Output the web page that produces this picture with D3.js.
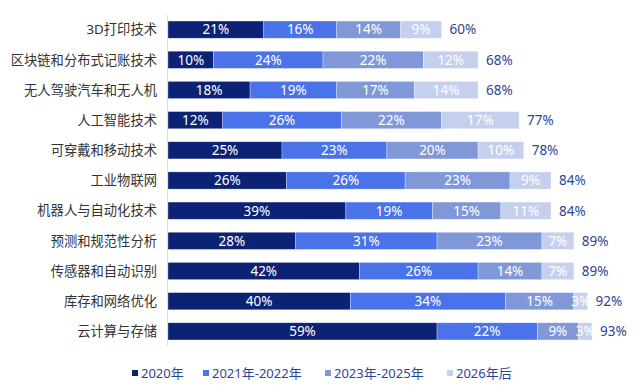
<!DOCTYPE html>
<html><head><meta charset="utf-8">
<script src="https://cdn.jsdelivr.net/npm/d3@7"></script>
<style>body{margin:0;background:#fff}svg{display:block}</style>
</head><body><svg id="c" width="640" height="392"></svg>
<script>
const categories = ["3D打印技术","区块链和分布式记账技术","无人驾驶汽车和无人机","人工智能技术","可穿戴和移动技术","工业物联网","机器人与自动化技术","预测和规范性分析","传感器和自动识别","库存和网络优化","云计算与存储"];
const seriesNames = ["2020年","2021年-2022年","2023年-2025年","2026年后"];
const s2020 = [21,10,18,12,25,26,39,28,42,40,59];
const s2122 = [16,24,19,26,23,26,19,31,26,34,22];
const s2325 = [14,22,17,22,20,23,15,23,14,15,9];
const s2026 = [9,12,14,17,10,9,11,7,7,3,3];
const totals = [60,68,68,77,78,84,84,89,89,92,93];
const colors = ["#0c2274","#4a72e9","#8198d8","#c5cfee"];

const svg = d3.select("#c");
const font = "'Noto Sans CJK SC','Noto Sans',sans-serif";
const numFont = "'Noto Sans','Noto Sans CJK SC',sans-serif";
const x = d3.scaleLinear().domain([0,100]).range([168,624]);
const y = d3.scaleBand().domain(categories).range([15,346]).paddingInner(0.43).paddingOuter(0.2);

const series = [s2020,s2122,s2325,s2026];
const rows = categories.map((c,i)=>({cat:c, vals:series.map(s=>s[i]), total:totals[i]}));

svg.append("line").attr("x1",167.5).attr("x2",167.5).attr("y1",15).attr("y2",346)
  .attr("stroke","#d5dcea").attr("stroke-width",1);

rows.forEach(r=>{
  let acc=0;
  r.vals.forEach((v,k)=>{
    const x0=x(acc), x1=x(acc+v);
    svg.append("rect").attr("x",x0).attr("y",y(r.cat)).attr("width",x1-x0).attr("height",y.bandwidth())
      .attr("fill",colors[k]).attr("stroke","rgba(255,255,255,0.5)").attr("stroke-width",0.6);
    svg.append("text").attr("x",(x0+x1)/2).attr("y",y(r.cat)+y.bandwidth()/2).attr("dy","0.36em")
      .attr("text-anchor","middle").attr("fill","#fff").attr("font-family",numFont).attr("font-size",13.5)
      .text(v+"%");
    acc+=v;
  });
  svg.append("text").attr("x",x(r.total)+8).attr("y",y(r.cat)+y.bandwidth()/2).attr("dy","0.36em")
    .attr("fill","#2d4596").attr("font-family",numFont).attr("font-size",13.5).text(r.total+"%");
});

svg.append("g").selectAll("text").data(categories).join("text")
  .attr("x",157).attr("y",d=>y(d)+y.bandwidth()/2).attr("dy","0.36em")
  .attr("text-anchor","end").attr("fill","#333").attr("font-family",numFont).attr("font-size",13.3)
  .text(d=>d);

const legX=[132,203,325,447];
seriesNames.forEach((n,k)=>{
  svg.append("rect").attr("x",legX[k]).attr("y",370).attr("width",6).attr("height",6).attr("fill",colors[k]);
  svg.append("text").attr("x",legX[k]+9).attr("y",373).attr("dy","0.36em").attr("fill","#2d4596")
    .attr("font-family",numFont).attr("font-size",13).text(n);
});
</script></body></html>
